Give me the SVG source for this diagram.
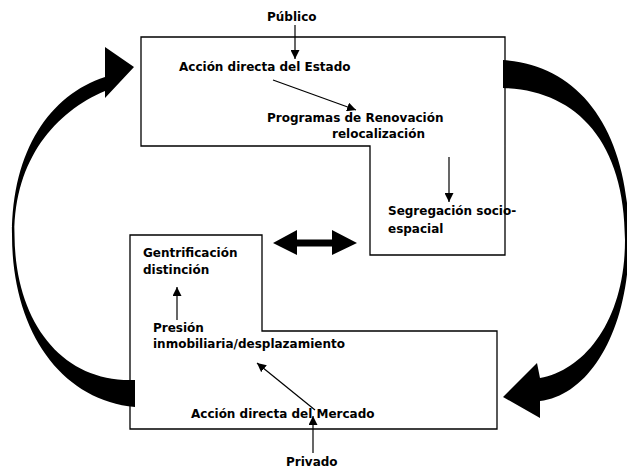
<svg xmlns="http://www.w3.org/2000/svg" width="627" height="470" viewBox="0 0 627 470">
<style>
.box{fill:#fff;stroke:#000;stroke-width:1.3}
.t{font-family:"DejaVu Sans",sans-serif;font-weight:bold;font-size:12px;fill:#000}
.ln{stroke:#000;stroke-width:1.2;fill:none;marker-end:url(#ah)}
.big{fill:#000;stroke:none}
</style>
<defs>
<marker id="ah" viewBox="0 0 10 10" refX="10" refY="5" markerWidth="9" markerHeight="9" markerUnits="userSpaceOnUse" orient="auto">
<path d="M0,0 L10,5 L0,10 Z" fill="#000"/>
</marker>
</defs>
<rect width="627" height="470" fill="#fff"/>
<g id="estado">
<path class="box" d="M141,37 H505 V255 H370 V146 H141 Z"/>
<text class="t" x="179" y="71">Acción directa del Estado</text>
<text class="t" x="267" y="122">Programas de Renovación</text>
<text class="t" x="332" y="138">relocalización</text>
<text class="t" x="388" y="215">Segregación socio-</text>
<text class="t" x="388" y="233">espacial</text>
</g>
<g id="mercado">
<path class="box" d="M130,235 H262 V331 H497 V429 H130 Z"/>
<text class="t" x="143" y="257">Gentrificación</text>
<text class="t" x="143" y="274">distinción</text>
<text class="t" x="153" y="332">Presión</text>
<text class="t" x="153" y="348">inmobiliaria/desplazamiento</text>
<text class="t" x="191" y="418">Acción directa del Mercado</text>
</g>
<g id="publico"><text class="t" x="267" y="21">Público</text></g>
<g id="privado"><text class="t" x="286" y="466">Privado</text></g>
<g id="connectors">
<path class="big" d="M135,407 C60,400 12,330 12,235 C12,150 50,95 105,77 L105,47 L134,67 L105,98 L105,91 C55,112 14,160 14.5,235 C15,322 62,383 135,380 Z"/>
<path class="big" d="M503,60 C580,65 629,130 629,240 C629,330 590,395 540,401 L540,418 L503,397 L537,363 L540,378 C585,370 625,320 625,240 C625,140 575,90 503,88 Z"/>
<path class="big" d="M273,243 L297,230 L297,239.5 L332,239.5 L332,230 L357,243 L332,255 L332,246.5 L297,246.5 L297,255 Z"/>
<path class="ln" d="M295,25 V59"/>
<path class="ln" d="M273,80 L356,110"/>
<path class="ln" d="M449,157 V202"/>
<path class="ln" d="M177,320 V287"/>
<path class="ln" d="M315,410 L257,363"/>
<path class="ln" d="M313,453 V416"/>
</g>
</svg>
